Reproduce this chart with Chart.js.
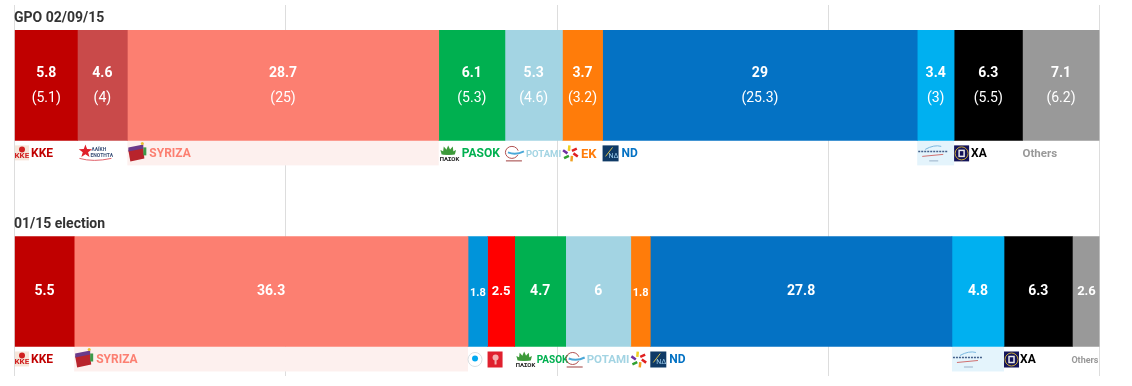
<!DOCTYPE html>
<html>
<head>
<meta charset="utf-8">
<style>
  html, body { margin: 0; background: #fff; }
  canvas { display: block; }
</style>
<script src="https://cdn.jsdelivr.net/npm/chart.js@4/dist/chart.umd.min.js"></script>
</head>
<body>
<canvas id="grafico" width="1132" height="386"></canvas>
<script>
// rows of the chart
const rowTitles = ['GPO 02/09/15', '01/15 election'];
const rowPositions = [1, 2];

// parties, in stacking order
const parties = ['KKE', 'LAE', 'SYRIZA', 'DIMAR', 'KIDISO', 'PASOK', 'POTAMI', 'EK', 'ND', 'ANEL', 'XA', 'Others'];
const partyColors = ['#c00000', '#c94a4a', '#fc7f71', '#0094da', '#ff0000', '#00b050', '#a3d4e3', '#ff7c0a', '#0472c4', '#00b0f0', '#000000', '#999999'];

// values
const gpoValues = [5.8, 4.6, 28.7, null, null, 6.1, 5.3, 3.7, 29, 3.4, 6.3, 7.1];
const gpoRaw = [5.1, 4, 25, null, null, 5.3, 4.6, 3.2, 25.3, 3, 5.5, 6.2];
const electionValues = [5.5, null, 36.3, 1.8, 2.5, 4.7, 6, 1.8, 27.8, 4.8, 6.3, 2.6];

const xTicks = [0, 25, 50, 75, 100];

// party label text per row ('' = logo only)
const gpoLabels = ['KKE', '', 'SYRIZA', '', '', 'PASOK', 'POTAMI', 'EK', 'ND', '', 'XA', 'Others'];
const electionLabels = ['KKE', '', 'SYRIZA', '', '', 'PASOK', 'POTAMI', '', 'ND', '', 'XA', 'Others'];

const FONT = 'Roboto, sans-serif';

// where the text starts from the left of the segment, and size per row
const labelOffset = [
  { KKE: 16, SYRIZA: 22, PASOK: 23, POTAMI: 21, EK: 18.5, ND: 19, XA: 17, Others: 0 },
  { KKE: 16, SYRIZA: 22, PASOK: 22, POTAMI: 21, ND: 19, XA: 16, Others: -1 }
];
const labelSize = [
  { KKE: 12, SYRIZA: 12, PASOK: 12, POTAMI: 9.5, EK: 13, ND: 12, XA: 12, Others: 11.5 },
  { KKE: 12, SYRIZA: 12, PASOK: 10, POTAMI: 11.5, ND: 12, XA: 12, Others: 9 }
];

// little party logos, drawn roughly. x = left of segment, y = middle of label line
const logos = {
  KKE(c, x, y) {
    c.fillStyle = '#f6e6da'; c.fillRect(x, y - 7, 14, 15);
    c.fillStyle = '#d02020'; c.beginPath(); c.arc(x + 7, y - 3, 3, 0, 7); c.fill();
    c.font = 'bold 8px ' + FONT; c.textAlign = 'left';
    c.fillText('KKE', x - 0.5, y + 4);
  },
  LAE(c, x, y) {
    c.fillStyle = '#e0202a'; c.beginPath();
    for (let i = 0; i < 10; i++) {
      const r = i % 2 ? 2.8 : 7, a = -Math.PI / 2 + i * Math.PI / 5;
      c.lineTo(x + 8 + r * Math.cos(a), y - 1 + r * Math.sin(a));
    }
    c.fill();
    c.fillStyle = '#3a5078'; c.font = 'bold 5px ' + FONT; c.textAlign = 'left';
    c.fillText('ΛΑΪΚΗ', x + 14, y - 3);
    c.fillText('ΕΝΟΤΗΤΑ', x + 13, y + 3);
    c.strokeStyle = '#e0606a'; c.lineWidth = 1;
    c.beginPath(); c.moveTo(x + 2, y + 6); c.quadraticCurveTo(x + 16, y + 10, x + 34, y + 6); c.stroke();
  },
  SYRIZA(c, x, y) {
    c.fillStyle = '#b8242c'; c.beginPath();
    c.moveTo(x + 1, y - 2); c.lineTo(x + 16, y - 5); c.lineTo(x + 17, y + 6); c.lineTo(x + 3, y + 9); c.fill();
    c.fillStyle = '#6a3a8a'; c.beginPath();
    c.moveTo(x + 1, y - 5); c.lineTo(x + 16, y - 8); c.lineTo(x + 16, y - 4); c.lineTo(x + 1, y - 1); c.fill();
    c.fillStyle = '#3d9a4a'; c.fillRect(x + 16, y - 5, 3, 8);
    c.fillStyle = '#e8c030'; c.beginPath(); c.arc(x + 15, y - 9, 1.5, 0, 7); c.fill();
  },
  DIMAR(c, x, y) {
    c.strokeStyle = '#d8dde0'; c.lineWidth = 1; c.beginPath(); c.arc(x + 7, y + 1, 7, 0, 7); c.stroke();
    c.fillStyle = '#00a8f0'; c.beginPath(); c.arc(x + 7, y, 3, 0, 7); c.fill();
  },
  KIDISO(c, x, y) {
    c.fillStyle = '#e0202e'; c.fillRect(x, y - 7, 15, 16);
    c.fillStyle = '#f4b0b0'; c.beginPath(); c.arc(x + 8, y - 1, 3, 0, 7); c.fill();
    c.fillRect(x + 7, y + 1, 2, 5);
  },
  PASOK(c, x, y) {
    c.fillStyle = '#3d9a3a';
    for (let i = 0; i < 7; i++) {
      const a = Math.PI + i * Math.PI / 6;
      c.beginPath();
      c.moveTo(x + 5.5 + 3 * Math.cos(a), y + 2);
      c.lineTo(x + 9.5 + 9 * Math.cos(a), y + 2 + 9 * Math.sin(a));
      c.lineTo(x + 13.5 + 3 * Math.cos(a), y + 2);
      c.fill();
    }
    c.fillStyle = '#222'; c.font = 'bold 6px ' + FONT; c.textAlign = 'left';
    c.fillText('ΠΑΣΟΚ', x + 1, y + 7);
  },
  POTAMI(c, x, y) {
    c.strokeStyle = '#b05050'; c.lineWidth = 1; c.beginPath(); c.ellipse(x + 7, y, 6.5, 6, 0, 0.4, 6); c.stroke();
    c.strokeStyle = '#4aa8d8'; c.lineWidth = 2; c.beginPath(); c.moveTo(x + 3, y); c.quadraticCurveTo(x + 11, y + 3, x + 19, y - 1); c.stroke();
    c.fillStyle = '#a04040'; c.fillRect(x + 1, y + 8, 16, 1);
  },
  EK(c, x, y) {
    const cols = ['#e02020', '#f0a020', '#30a030', '#7030a0', '#f0d020', '#e02020'];
    c.lineWidth = 2.5;
    cols.forEach((col, i) => {
      const a = i * Math.PI / 3;
      c.strokeStyle = col; c.beginPath();
      c.moveTo(x + 8 + 3 * Math.cos(a), y + 1 + 3 * Math.sin(a));
      c.lineTo(x + 8 + 8 * Math.cos(a + 0.4), y + 1 + 8 * Math.sin(a + 0.4));
      c.stroke();
    });
  },
  ND(c, x, y) {
    c.fillStyle = '#0f3a66'; c.fillRect(x, y - 7, 16, 16);
    c.strokeStyle = '#d8c050'; c.lineWidth = 1; c.beginPath(); c.moveTo(x + 3, y + 4); c.lineTo(x + 10, y - 5); c.stroke();
    c.fillStyle = '#9fd0f0'; c.font = '7px ' + FONT; c.textAlign = 'left'; c.fillText('NΔ', x + 6, y + 4);
  },
  ANEL(c, x, y) {
    c.setLineDash([2, 1]);
    c.strokeStyle = '#44608a'; c.lineWidth = 1.5; c.beginPath(); c.moveTo(x + 1, y - 1); c.lineTo(x + 30, y - 1); c.stroke();
    c.setLineDash([]);
    c.strokeStyle = '#7ab8e0'; c.lineWidth = 1; c.beginPath(); c.moveTo(x + 8, y - 3); c.quadraticCurveTo(x + 17, y - 8, x + 24, y - 6); c.stroke();
    c.strokeStyle = '#d07070'; c.beginPath(); c.moveTo(x + 5, y + 4); c.lineTo(x + 26, y + 2); c.stroke();
    c.fillStyle = '#9ab0c8'; c.fillRect(x + 12, y + 8, 9, 1);
  },
  XA(c, x, y) {
    c.fillStyle = '#14145a'; c.fillRect(x, y - 7, 15, 16);
    c.strokeStyle = '#c8a838'; c.lineWidth = 1; c.beginPath(); c.arc(x + 7.5, y + 1, 6.5, 0, 7); c.stroke();
    c.strokeStyle = '#e8e8e8'; c.lineWidth = 1.5; c.strokeRect(x + 5, y - 2, 5, 6);
  }
};

const rowHeight = 110;
const stripHeight = 25;

const partyMarks = {
  id: 'partyMarks',
  beforeDatasetsDraw(chart) {
    // pale strips under the two big segments
    const c = chart.ctx;
    chart.data.datasets.forEach((ds, d) => {
      const strip = { SYRIZA: '#fdf0ee', ANEL: '#e4f4fc' }[parties[d]];
      if (!strip) return;
      chart.getDatasetMeta(d).data.forEach(bar => {
        c.fillStyle = strip;
        c.fillRect(bar.base, bar.y + rowHeight / 2, bar.x - bar.base, stripHeight);
      });
    });
  },
  afterDatasetsDraw(chart) {
    const c = chart.ctx;
    const xs = chart.scales.x, ys = chart.scales.y;
    c.save();
    c.textBaseline = 'middle';
    rowTitles.forEach((t, r) => {
      c.fillStyle = '#333';
      c.font = 'bold 14px ' + FONT;
      c.textAlign = 'left';
      c.fillText(t, xs.left - 0.5, ys.getPixelForValue(rowPositions[r]) - 67);
    });
    chart.data.datasets.forEach((ds, d) => {
      const name = parties[d];
      chart.getDatasetMeta(d).data.forEach((bar, r) => {
        const v = ds.data[r].x;
        if (v === null) return;
        const mid = (bar.base + bar.x) / 2;
        c.fillStyle = '#fff';
        c.textAlign = 'center';
        c.font = 'bold ' + (v < 2 ? 11 : v < 3 && r === 1 ? 13 : 14) + 'px ' + FONT;
        if (r === 0) {
          c.fillText(String(v), mid, bar.y - 12);
          c.font = '14px ' + FONT;
          c.fillText('(' + gpoRaw[d] + ')', mid, bar.y + 13);
        } else {
          c.fillText(String(v), mid, bar.y + (v < 2 ? 2 : 0));
        }
        const lineY = bar.y + rowHeight / 2 + 14;
        if (logos[name]) logos[name](c, bar.base, lineY - 2);
        const text = (r === 0 ? gpoLabels : electionLabels)[d];
        if (text) {
          c.fillStyle = partyColors[d];
          c.textAlign = 'left';
          c.font = 'bold ' + labelSize[r][name] + 'px ' + FONT;
          c.fillText(text, bar.base + labelOffset[r][name], lineY);
        }
      });
    });
    c.restore();
  }
};

new Chart(document.getElementById('grafico').getContext('2d'), {
  type: 'bar',
  data: {
    datasets: parties.map((p, i) => ({
      label: p,
      data: [
        { x: gpoValues[i], y: rowPositions[0] },
        { x: electionValues[i], y: rowPositions[1] }
      ],
      backgroundColor: partyColors[i],
      borderWidth: 0,
      barThickness: rowHeight
    }))
  },
  options: {
    indexAxis: 'y',
    responsive: false,
    animation: false,
    layout: { padding: { left: 14.5, right: 32.5, top: 5, bottom: 10 } },
    plugins: { legend: { display: false }, tooltip: { enabled: false } },
    scales: {
      x: {
        type: 'linear',
        stacked: true,
        min: 0,
        max: 100,
        afterBuildTicks(axis) { axis.ticks = xTicks.map(v => ({ value: v })); },
        border: { display: false },
        grid: { color: '#dddddd', lineWidth: 1, drawTicks: false },
        ticks: { display: false }
      },
      y: {
        type: 'linear',
        stacked: true,
        reverse: true,
        offset: false,
        min: 0.61,
        max: 2.41,
        display: false
      }
    }
  },
  plugins: [partyMarks]
});
</script>
</body>
</html>
